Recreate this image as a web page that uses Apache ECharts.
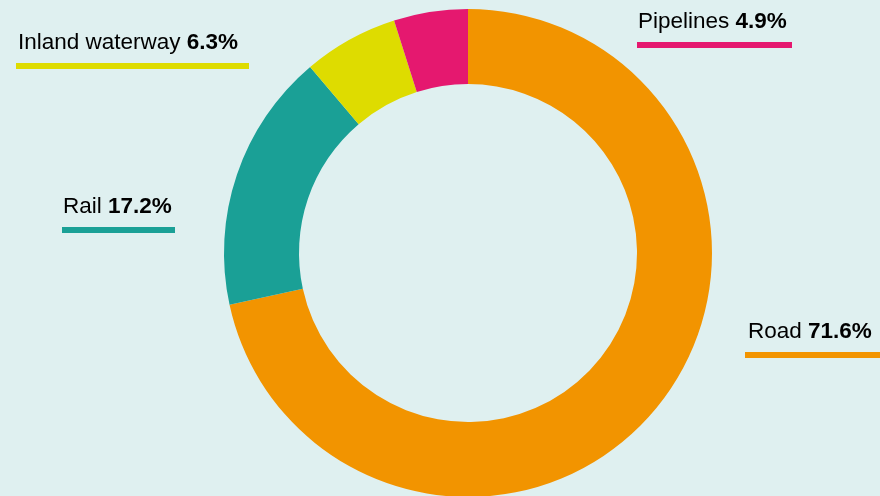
<!DOCTYPE html>
<html lang="en">
<head>
    <meta charset="UTF-8">
    <title>Freight transport by mode</title>
    <script src="https://cdn.jsdelivr.net/npm/echarts@6/dist/echarts.min.js"></script>
    <style>
        html, body { margin: 0; padding: 0; background: #dff0f0; }
        #chart { width: 880px; height: 496px; }
    </style>
</head>
<body>
    <div id="chart"></div>
    <script>
        // data, clockwise from 12 o'clock
        var modes = ['Road', 'Rail', 'Inland waterway', 'Pipelines'];
        var shares = [71.6, 17.2, 6.3, 4.9];
        var colors = ['#f29400', '#1aa096', '#dedc00', '#e5186f'];

        // label placement: [text x, text baseline y, bar x, bar width]
        var labelPos = [
            [748, 340, 745, 140],
            [63, 215, 62, 113],
            [18, 51, 16, 233],
            [638, 30, 637, 155]
        ];

        var graphics = [];
        modes.forEach(function (m, i) {
            var p = labelPos[i];
            graphics.push({
                type: 'text',
                x: p[0],
                y: p[1] - 8,
                style: {
                    text: '{n|' + m + ' }{b|' + shares[i].toFixed(1) + '%}',
                    verticalAlign: 'middle',
                    rich: {
                        n: { fontFamily: 'Liberation Sans', fontSize: 22.5, color: '#333' },
                        b: { fontFamily: 'Liberation Sans', fontSize: 22.5, fontWeight: 'bold', color: '#222' }
                    }
                }
            });
            graphics.push({
                type: 'rect',
                shape: { x: p[2], y: p[1] + 12, width: p[3], height: 6 },
                style: { fill: colors[i] }
            });
        });

        var myChart = echarts.init(document.getElementById('chart'));
        myChart.setOption({
            backgroundColor: '#dff0f0',
            animation: false,
            graphic: graphics,
            series: [{
                type: 'pie',
                center: [468, 253],
                radius: [169, 244],
                startAngle: 90,
                clockwise: true,
                label: { show: false },
                labelLine: { show: false },
                emphasis: { disabled: true },
                data: modes.map(function (m, i) {
                    return { name: m, value: shares[i], itemStyle: { color: colors[i] } };
                })
            }]
        });
    </script>
</body>
</html>
